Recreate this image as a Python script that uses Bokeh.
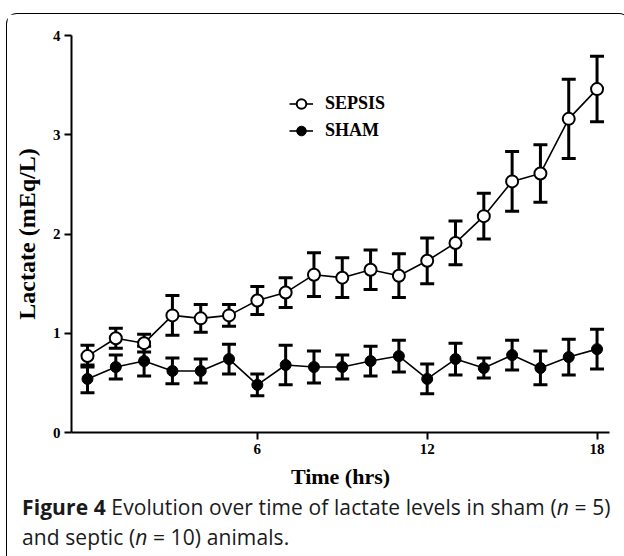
from bokeh.plotting import figure
from bokeh.models import (ColumnDataSource, Whisker, TeeHead, FixedTicker, Legend,
                          LegendItem, Div, Range1d)
from bokeh.layouts import column
from bokeh.embed import file_html
from bokeh.resources import INLINE

# ---- data ----
hours = list(range(19))
sepsis_mean = [0.77, 0.95, 0.90, 1.18, 1.15, 1.18, 1.33, 1.41, 1.59, 1.56,
               1.64, 1.58, 1.73, 1.91, 2.18, 2.53, 2.61, 3.16, 3.46]
sepsis_sem = [0.11, 0.10, 0.09, 0.20, 0.14, 0.11, 0.14, 0.15, 0.22, 0.20,
              0.20, 0.22, 0.23, 0.22, 0.23, 0.30, 0.29, 0.40, 0.33]
sham_mean = [0.54, 0.66, 0.72, 0.62, 0.62, 0.74, 0.48, 0.68, 0.66, 0.66,
             0.72, 0.77, 0.54, 0.74, 0.65, 0.78, 0.65, 0.76, 0.84]
sham_sem = [0.14, 0.12, 0.15, 0.13, 0.12, 0.15, 0.11, 0.20, 0.16, 0.12,
            0.15, 0.16, 0.15, 0.16, 0.10, 0.15, 0.17, 0.18, 0.20]
x_ticks = [6, 12, 18]
y_ticks = [0, 1, 2, 3, 4]
series_names = ["SEPSIS", "SHAM"]
x_title = "Time (hrs)"
y_title = "Lactate (mEq/L)"
caption_bold = "Figure 4"
caption_rest = " Evolution over time of lactate levels in sham (<i>n</i> = 5) and septic (<i>n</i> = 10) animals."

SERIF = "Liberation Serif"

sep_src = ColumnDataSource(dict(
    x=hours, y=sepsis_mean,
    upper=[m + s for m, s in zip(sepsis_mean, sepsis_sem)],
    lower=[m - s for m, s in zip(sepsis_mean, sepsis_sem)]))
sham_src = ColumnDataSource(dict(
    x=hours, y=sham_mean,
    upper=[m + s for m, s in zip(sham_mean, sham_sem)],
    lower=[m - s for m, s in zip(sham_mean, sham_sem)]))

p = figure(width=612, height=478, output_backend="svg", toolbar_location=None,
           x_range=Range1d(-0.565, 18.44), y_range=Range1d(0, 4),
           min_border_left=64, min_border_right=10, min_border_top=21,
           min_border_bottom=60)
p.outline_line_color = None
p.xgrid.visible = False
p.ygrid.visible = False
p.background_fill_color = "white"
p.border_fill_color = "white"

for ax, ticks in ((p.xaxis, x_ticks), (p.yaxis, y_ticks)):
    ax.ticker = FixedTicker(ticks=ticks)
    ax.axis_line_width = 2
    ax.axis_line_color = "black"
    ax.major_tick_line_width = 2
    ax.major_tick_line_color = "black"
    ax.major_tick_out = 7
    ax.major_tick_in = 0
    ax.minor_tick_line_color = None
    ax.major_label_text_font = SERIF
    ax.major_label_text_font_style = "bold"
    ax.major_label_text_font_size = "15px"
    ax.major_label_text_color = "black"
    ax.axis_label_text_font = SERIF
    ax.axis_label_text_font_style = "bold"
    ax.axis_label_text_color = "black"

p.xaxis.axis_label = x_title
p.xaxis.axis_label_text_font_size = "22px"
p.xaxis.major_label_standoff = 4
p.xaxis.axis_label_standoff = 7
p.yaxis.axis_label = y_title
p.yaxis.axis_label_text_font_size = "24px"
p.yaxis.major_label_standoff = 4
p.yaxis.axis_label_standoff = 10

for src in (sep_src, sham_src):
    w = Whisker(base="x", upper="upper", lower="lower", source=src, level="underlay",
                line_width=3, line_color="black",
                upper_head=TeeHead(size=14, line_width=3, line_color="black"),
                lower_head=TeeHead(size=14, line_width=3, line_color="black"))
    p.add_layout(w)

sep_line = p.line("x", "y", source=sep_src, line_width=1.6, line_color="black")
sep_mark = p.scatter("x", "y", source=sep_src, size=12, marker="circle",
                     fill_color="white", line_color="black", line_width=2)
sham_line = p.line("x", "y", source=sham_src, line_width=1.6, line_color="black")
sham_mark = p.scatter("x", "y", source=sham_src, size=11, marker="circle",
                      fill_color="black", line_color="black", line_width=1)

legend = Legend(items=[LegendItem(label=series_names[0], renderers=[sep_line, sep_mark]),
                       LegendItem(label=series_names[1], renderers=[sham_line, sham_mark])],
                location=(218, 288), orientation="vertical",
                glyph_width=24, glyph_height=27, label_height=20, spacing=0,
                padding=0, margin=0, border_line_color=None, background_fill_alpha=0,
                label_text_font=SERIF, label_text_font_style="bold",
                label_text_font_size="18px", label_text_color="black",
                label_standoff=12)
p.add_layout(legend, "center")

div = Div(text=f"<b>{caption_bold}</b>{caption_rest}", width=612, height=63,
          styles={"font-family": "'Open Sans', sans-serif", "font-size": "21px",
                  "letter-spacing": "0.1px", "line-height": "30px",
                  "padding-left": "10px", "padding-right": "6px",
                  "position": "relative", "top": "-5px",
                  "color": "#1a1a1a", "box-sizing": "border-box"})

layout = column(p, div, margin=(13, 0, 0, 6),
                styles={"border": "1.5px solid #000", "border-bottom": "none",
                        "border-radius": "11px 11px 0 0", "background": "white"})

open("out.html", "w").write(file_html(layout, INLINE))
